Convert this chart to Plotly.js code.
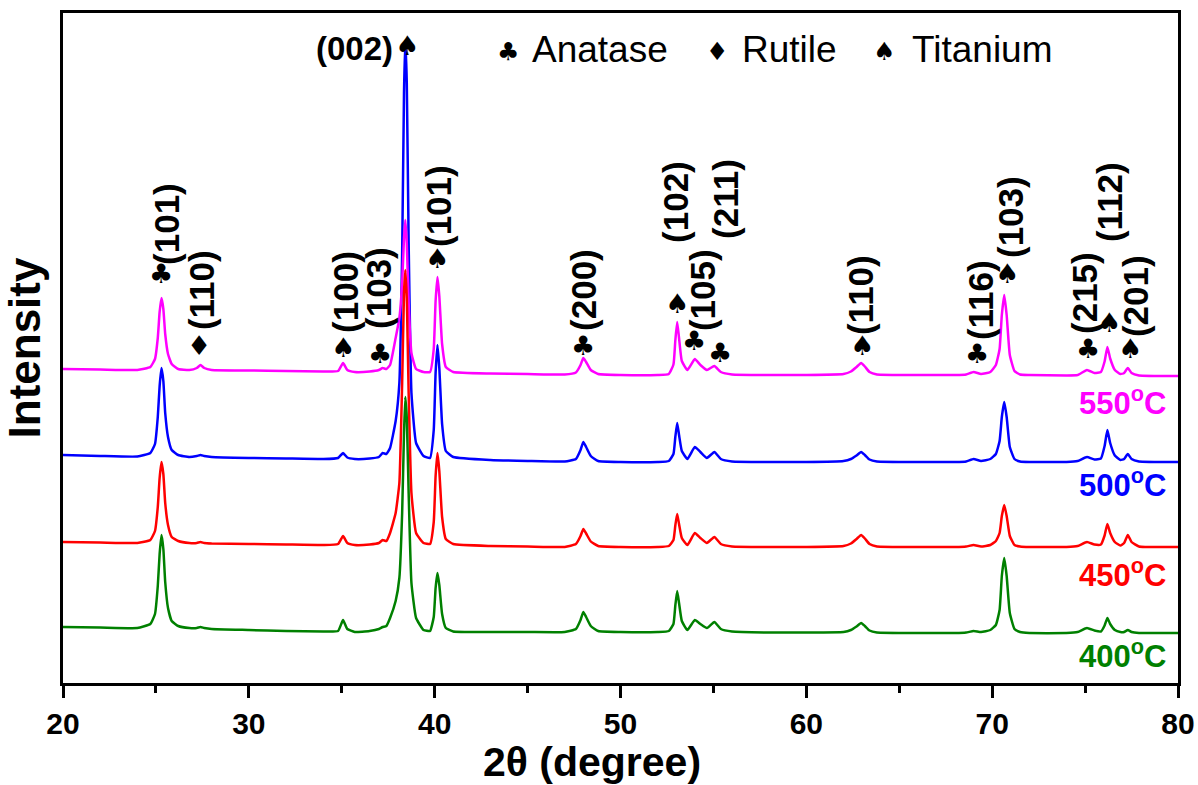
<!DOCTYPE html>
<html><head><meta charset="utf-8">
<script src="https://cdn.plot.ly/plotly-3.0.1.min.js"></script>
<style>html,body{margin:0;padding:0;background:#fff}</style>
</head><body><div id="chart" style="width:1198px;height:785px"></div>
<script>
// 2θ sample positions (degrees)
const twoTheta = [20,22,24,24.7,24.95,25.1,25.2,25.3,25.4,25.5,
25.65,25.85,26.2,26.8,27.2,27.4,27.6,28,30,32,
34,34.8,35.07,35.3,35.7,36.5,37.0,37.2,37.4,37.6,
37.9,38.1,38.25,38.35,38.42,38.5,38.6,38.75,39.0,39.4,
39.75,39.95,40.05,40.15,40.25,40.4,40.6,41.0,43,45,
47,47.6,47.85,48.0,48.15,48.4,48.8,50,52,52.6,
52.85,52.95,53.05,53.15,53.3,53.6,54.0,54.3,54.65,55.05,
55.4,56,58,60,62.0,62.4,62.7,62.95,63.15,63.4,
63.8,66,68,68.6,69.0,69.4,69.9,70.2,70.4,70.52,
70.65,70.78,70.95,71.2,71.5,72,74,74.6,75.1,75.5,
75.85,76.05,76.2,76.35,76.6,76.9,77.1,77.3,77.5,77.9,80];

// Stacked intensities (a.u.) as plotted
const int550 = [314,313.5,313,316,324,345,371,385,374,349,
329,319,314,313,315,318,315,313,312.5,312,
311.5,312,320,313,311,311.5,313,315,314,318,
345,365,400,445,463,440,380,330,314,311,
311,334,382,406,387,339,316,311,309.5,309,
308.5,310.5,318,325,321,313,309,308,308,309,
318.5,342.5,361,345,322,313,324,318,313,317,
311,308.5,308,308,309,311.5,316,320,316.5,311,
308.5,308,308,308.5,311,309,311,318,334,368,
388,368,328,312,308.5,308,307.5,308,313,310,
311,321.5,336,324.5,313,309,310,315,310,307.5,307];

const int500 = [228,227,226.5,230,239,266,297,315,302,270,
246,233,228,226,227,228,227,226,225,224.5,
224,225,230,225.5,224,224.5,226,230,229,235,
262,300,430,590,643,600,440,290,240,227,
225,253,310,338,315,259,232,226,223,222,
221.5,224,233,241,236,227,222,221,221,222,
229,246,260,248,232,224,236,231,225,231,
224,221.5,221,221,222,224,227.5,231,228,223.5,
221.5,221,221,221.5,224,222,224,229,242,266,
281,266,236,224,221.5,221,221,222,226,223.5,
224.5,237,253,240,227.5,223,224,229,224,221.5,221];

const int450 = [141,140.5,140,143,152,176,205,221,209,180,
158,146,142,140,140,141,140,139.5,139,138.5,
138,139,147,140,138,138.5,140,143,142,150,
170,200,300,390,413,385,290,190,150,140,
139,161,207,230,212,166,144,139,137,136.5,
136,139,147,154,149.5,141.5,137,136,136,137,
143,157.5,169,159,145,138,150,145,140,146,
139,136.5,136,136,137,139.5,144,148,144.5,139,
136.5,136,136,136.5,138,136.5,138,142,150,167,
178,167,147,138,136.5,136,136,137,141,138.5,
138.5,147.5,159,150,141,137.5,140,148,141,136.5,136];

const int400 = [56,55.5,55,59,69,97,129,148,134,101,
75,62,57,55,55,56,55,54,53,52,
51.5,52,63,54,51,52,54,56,57,65,
82,105,170,250,286,265,190,100,65,53,
52,66,95,110,98,69,55,51.5,51,51,
51,54,63,71,66,57,52,51,51,52,
59,77.5,92,80,62,53,63,59,55,61,
54,51.5,50.5,50.5,51,53,56.5,60,57,52.5,
50.5,50,50,50.5,52,51,53,58,73,107,
125,107,70,54,51,50,50,51,55,52.5,
51.5,57.5,65,59,53,51,51,53,51,50,50];

const seriesNames = ['550°C','500°C','450°C','400°C'];
const seriesLabels = ['550<sup>o</sup>C','500<sup>o</sup>C','450<sup>o</sup>C','400<sup>o</sup>C'];
const tickVals = [20,30,40,50,60,70,80];
const tickText = ['20','30','40','50','60','70','80'];
const minorTickVals = [25,35,45,55,65,75];

// phase symbols above peaks
const symText = ['♣','♦','♠','♣','♠','♣','♠','♣','♣','♠','♣','♠','♣','♠','♠','♠'];
const symX = [25.27,27.32,35.07,37.06,40.13,47.98,53.04,53.96,55.35,63.0,69.18,70.80,75.16,76.29,77.42,38.5];
const symY = [410,338,336,330,425,338,380,343,331,338,330,410,335,361,335,638];
// Miller index labels (rotated)
const hklText = ['(101)','(110)','(100)','(103)','(101)','(200)','(102)','(105)','(211)','(110)','(116)','(103)','(215)','(112)','(201)'];
const hklX = [25.54,27.43,35.17,36.95,40.18,47.98,52.93,54.39,55.62,62.89,69.35,70.96,74.94,76.29,77.69];
const hklY = [459,393,391,395,477,393,481,393,484,388,383,466,390,481,387];

const FONT = 'Liberation Sans, Arial, sans-serif';
const SYMFONT = 'DejaVu Sans, Liberation Sans, sans-serif';
const colors = {'550°C':'#ff00ff','500°C':'#0000ff','450°C':'#ff0000','400°C':'#008000'};
const dataByName = {'550°C':int550,'500°C':int500,'450°C':int450,'400°C':int400};

const order = ['500°C','550°C','450°C','400°C'];
const traces = order.map(n => ({
  type:'scatter', mode:'lines', name:n, x:twoTheta, y:dataByName[n],
  line:{color:colors[n], width:2.5, shape:'spline', smoothing:0.4},
  hoverinfo:'x+y+name'
}));

const px2x = p => 20 + (p - 63) / 18.583;
const annotations = [];
symText.forEach((t,i)=>annotations.push({x:symX[i], y:symY[i], xref:'x', yref:'y', text:t, showarrow:false,
  xanchor:'center', yanchor:'middle', font:{family:SYMFONT, size:27, color:'#000'}}));
hklText.forEach((t,i)=>annotations.push({x:hklX[i], y:hklY[i], xref:'x', yref:'y', text:t, showarrow:false,
  textangle:-90, xanchor:'center', yanchor:'middle', font:{family:FONT, size:35, color:'#000', weight:'bold'}}));
annotations.push({x:37.86, y:635, xref:'x', yref:'y', text:'(002)', showarrow:false, xanchor:'right', yanchor:'middle',
  font:{family:FONT, size:33, color:'#000', weight:'bold'}});
// phase key
const keySym = ['♣','♦','♠'], keyText = ['Anatase','Rutile','Titanium'];
const keySymPx = [508,717,884], keyTextPx = [530,740,910];
keySym.forEach((s,i)=>{
  annotations.push({x:px2x(keySymPx[i]), y:632, xref:'x', yref:'y', text:s, showarrow:false,
    xanchor:'center', yanchor:'middle', font:{family:SYMFONT, size:25, color:'#000'}});
  annotations.push({x:px2x(keyTextPx[i]), y:634, xref:'x', yref:'y', text:keyText[i], showarrow:false,
    xanchor:'left', yanchor:'middle', font:{family:FONT, size:37, color:'#000'}});
});
// temperature labels
const labelY = [282,200,110,29];
seriesNames.forEach((n,i)=>annotations.push({x:79.46, y:labelY[i], xref:'x', yref:'y', text:seriesLabels[i], showarrow:false,
  xanchor:'right', yanchor:'middle', font:{family:FONT, size:31, color:colors[n], weight:'bold'}}));

const layout = {
  width:1198, height:785,
  margin:{l:63, r:20, t:13, b:102, pad:0},
  paper_bgcolor:'#ffffff', plot_bgcolor:'#ffffff',
  showlegend:false,
  font:{family:FONT, color:'#000'},
  xaxis:{range:[20,80], tickmode:'array', tickvals:tickVals, ticktext:tickText,
    ticks:'outside', ticklen:12, tickwidth:3, tickcolor:'#000',
    showline:true, linewidth:3, linecolor:'#000', mirror:true,
    showgrid:false, zeroline:false,
    tickfont:{family:FONT, size:30, color:'#000', weight:'bold'},
    minor:{tickmode:'array', tickvals:minorTickVals, ticks:'outside', ticklen:7, tickwidth:3, tickcolor:'#000', showgrid:false},
    title:{text:'2θ (degree)&nbsp;&nbsp;&nbsp;&nbsp;&nbsp;', font:{family:FONT, size:41, color:'#000', weight:'bold'}, standoff:8}},
  yaxis:{range:[0,670], showticklabels:false, ticks:'',
    showline:true, linewidth:3, linecolor:'#000', mirror:true,
    showgrid:false, zeroline:false,
    title:{text:'Intensity', font:{family:FONT, size:44, color:'#000', weight:'bold'}, standoff:12}},
  annotations:annotations
};

Plotly.newPlot('chart', traces, layout, {displayModeBar:false});
</script></body></html>
